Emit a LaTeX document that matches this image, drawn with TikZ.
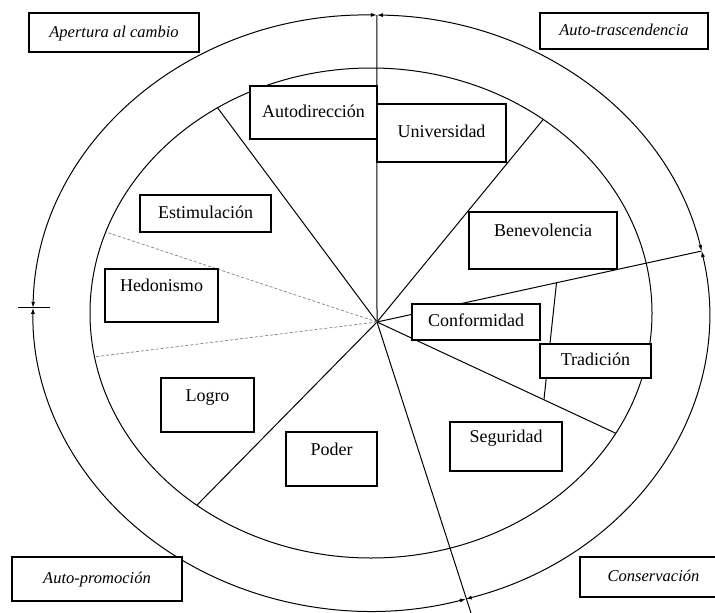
\documentclass[tikz,border=0pt]{standalone}
\usepackage{fontspec}
\setmainfont{Liberation Serif}
\usepackage{tikz}
\usetikzlibrary{arrows.meta}
\usetikzlibrary{calc}

\begin{document}
\begin{tikzpicture}[x=1pt, y=-1pt, line width=1pt,
					>={Latex[length=6pt,width=4pt]},
					every node/.style = {inner sep=0pt}]

\tikzstyle{box} = [rectangle, draw, fill=white, line width=1.3pt, font=\fontsize{18}{20}\selectfont, text height=13pt, text depth=4pt]
\tikzstyle{box_top} = [box, text depth=21pt]
\tikzstyle{corner} = [box, font=\fontsize{16.5}{18}\selectfont\itshape]
\tikzstyle{split} = [densely dashed, gray, line width=0.7pt]

\clip (0,0) rectangle (715,613);

\coordinate (c) at (371,313);
\coordinate (hub) at (377,322);
% outer ring
\coordinate (top) at ($(c)+(-89:338 and 298)$);
\coordinate (rt) at ($(c)+(-12:338 and 298)$);
\coordinate (bot) at ($(c)+(73.7:338 and 298)$);
\coordinate (lt) at ($(c)+(181:338 and 298)$);
\coordinate (bend) at (471,613);
% inner ring
\coordinate (ul) at ($(c)+(-123.1:281 and 245)$);
\coordinate (ur) at ($(c)+(-52.2:281 and 245)$);
\coordinate (lr) at ($(c)+(29.4:281 and 245)$);
\coordinate (ll) at ($(c)+(128.3:281 and 245)$);
\coordinate (hl1) at ($(c)+(-160.7:281 and 245)$);
\coordinate (hl2) at ($(c)+(169.7:281 and 245)$);
\coordinate (trA) at ($(hub)!0.553!(rt)$);
\coordinate (trB) at ($(hub)!0.699!(lr)$);

\draw (c) ellipse [x radius=281, y radius=245];

\draw[<->] (top) arc[start angle=-89, end angle=-12, x radius=338, y radius=298];
\draw[<->] (rt) arc[start angle=-12, end angle=73.7, x radius=338, y radius=298];
\draw[<->] (bot) arc[start angle=73.7, end angle=181, x radius=338, y radius=298];
\draw[<->] (lt) arc[start angle=181, end angle=271, x radius=338, y radius=298];
\draw ([xshift=-15pt]lt) -- ([xshift=17pt]lt);

\draw (hub) -- (top);
\draw (hub) -- (rt);
\draw (hub) -- (bend);
\draw (hub) -- (ul);
\draw (hub) -- (ur);
\draw (hub) -- (lr);
\draw (hub) -- (ll);
\draw[split] (hub) -- (hl1);
\draw[split] (hub) -- (hl2);
\draw (trA) -- (trB);

\node[box] (autod) at (313.5,112.5) [minimum width=127pt, minimum height=53pt] {Autodirección};
\node[box] (univ) at (441.5,133) [minimum width=129pt, minimum height=58pt] {Universidad};
\node[box] (estim) at (205.5,213.5) [minimum width=131pt, minimum height=37pt] {Estimulación};
\node[box_top] (hedon) at (161.5,295.5) [minimum width=113pt, minimum height=53pt] {Hedonismo};
\node[box_top] (benev) at (543,240.5) [minimum width=148pt, minimum height=57pt] {Benevolencia};
\node[box] (confor) at (476,322) [minimum width=128pt, minimum height=36pt] {Conformidad};
\node[box] (tradic) at (595.5,361) [minimum width=111pt, minimum height=34pt] {Tradición};
\node[box_top] (logro) at (207.5,405) [minimum width=93pt, minimum height=54pt] {Logro};
\node[box_top] (poder) at (331.5,459) [minimum width=91pt, minimum height=54pt] {Poder};
\node[box_top] (segur) at (506,446.5) [minimum width=112pt, minimum height=49pt] {Seguridad};

\node[corner] (apert) at (114,32.5) [minimum width=170pt, minimum height=39pt] {Apertura al cambio};
\node[corner] (trasc) at (624,31) [minimum width=168pt, minimum height=36pt] {Auto-trascendencia};
\node[corner] (promo) at (97,579) [minimum width=170pt, minimum height=44pt] {Auto-promoción};
\node[corner] (conse) at (653.5,577) [minimum width=147pt, minimum height=40pt] {Conservación};
\end{tikzpicture}
\end{document}
